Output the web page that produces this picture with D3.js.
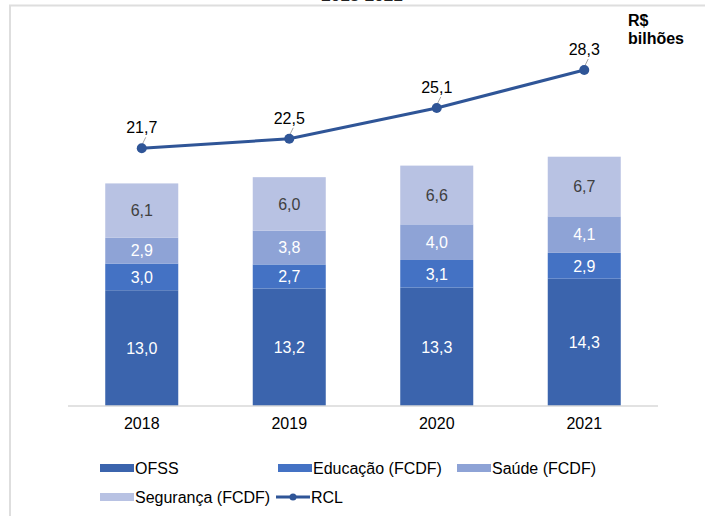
<!DOCTYPE html>
<html>
<head>
<meta charset="utf-8">
<script src="https://cdn.jsdelivr.net/npm/d3@7"></script>
<style>
  body { margin: 0; background: #fff; }
  svg { display: block; font-family: "Liberation Sans", Arial, sans-serif; }
</style>
</head>
<body>
<svg id="chart" width="705" height="516"></svg>
<script>
// data
var years = ['2018', '2019', '2020', '2021'];
var ofss = [13.0, 13.2, 13.3, 14.3];
var educacao = [3.0, 2.7, 3.1, 2.9];
var saude = [2.9, 3.8, 4.0, 4.1];
var seguranca = [6.1, 6.0, 6.6, 6.7];
var rcl = [21.7, 22.5, 25.1, 28.3];
var seriesNames = ['OFSS', 'Educação (FCDF)', 'Saúde (FCDF)', 'Segurança (FCDF)'];
var seriesColors = ['#3b64ad', '#4472c4', '#8ea3d6', '#b8c2e3'];
var labelColors = ['#ffffff', '#ffffff', '#ffffff', '#404040'];

var fmt = function(v){ return v.toFixed(1).replace('.', ','); };

var svg = d3.select('#chart');

// frame (cut off at top/right like the reference)
svg.append('path')
    .attr('d', 'M10,516 L10,5.5 L705,5.5')
    .attr('fill', 'none')
    .attr('stroke', '#dedede')
    .attr('stroke-width', 2);

// title, clipped by the top edge as in the reference
svg.append('text')
    .attr('x', 362).attr('y', 1)
    .attr('text-anchor', 'middle')
    .style('font-size', '17px').style('font-weight', 'bold')
    .attr('fill', '#222')
    .text('2018-2021');

var x = d3.scaleBand().domain(years).range([68, 658]).paddingInner(0.505).paddingOuter(0.2525);
var y = d3.scaleLinear().domain([0, 28]).range([406, 156.7]);
var y2 = d3.scaleLinear().domain([21.7, 28.3]).range([148.3, 70]);

var rows = years.map(function(yr, i){
    return { year: yr, OFSS: ofss[i], 'Educação (FCDF)': educacao[i], 'Saúde (FCDF)': saude[i], 'Segurança (FCDF)': seguranca[i] };
});
var stacked = d3.stack().keys(seriesNames)(rows);

var layers = svg.selectAll('g.layer').data(stacked).enter().append('g')
    .attr('class', 'layer')
    .attr('fill', function(d, i){ return seriesColors[i]; });

layers.selectAll('rect').data(function(d){ return d; }).enter().append('rect')
    .attr('x', function(d){ return x(d.data.year); })
    .attr('width', x.bandwidth())
    .attr('y', function(d){ return y(d[1]); })
    .attr('height', function(d){ return y(d[0]) - y(d[1]); });

layers.each(function(layer, i){
    d3.select(this).selectAll('text').data(layer).enter().append('text')
        .attr('x', function(d){ return x(d.data.year) + x.bandwidth() / 2; })
        .attr('y', function(d){ return (y(d[0]) + y(d[1])) / 2; })
        .attr('dy', '0.36em')
        .attr('text-anchor', 'middle')
        .attr('fill', labelColors[i])
        .style('font-size', '16px')
        .text(function(d){ return fmt(d[1] - d[0]); });
});

// baseline
svg.append('line')
    .attr('x1', 68).attr('x2', 658)
    .attr('y1', 406).attr('y2', 406)
    .attr('stroke', '#d9d9d9').attr('stroke-width', 1.5);

// x axis labels
var xAxis = d3.axisBottom(x).tickSize(0).tickPadding(12);
var gx = svg.append('g').attr('transform', 'translate(0,406)').call(xAxis);
gx.select('.domain').remove();
gx.selectAll('text').style('font-size', '16px').attr('fill', '#000')
    .style('font-family', '"Liberation Sans", Arial, sans-serif');

// RCL line
var cx = function(i){ return x(years[i]) + x.bandwidth() / 2; };
var line = d3.line().x(function(d, i){ return cx(i); }).y(function(d){ return y2(d); });
svg.append('path').datum(rcl)
    .attr('d', line)
    .attr('fill', 'none')
    .attr('stroke', '#2f5597')
    .attr('stroke-width', 3);

svg.selectAll('line.leader').data(rcl).enter().append('line')
    .attr('class', 'leader')
    .attr('x1', function(d, i){ return cx(i); })
    .attr('x2', function(d, i){ return cx(i) + 4; })
    .attr('y1', function(d){ return y2(d) - 3; })
    .attr('y2', function(d){ return y2(d) - 11; })
    .attr('stroke', '#a6a6a6').attr('stroke-width', 1);

svg.selectAll('circle.rcl').data(rcl).enter().append('circle')
    .attr('class', 'rcl')
    .attr('cx', function(d, i){ return cx(i); })
    .attr('cy', function(d){ return y2(d); })
    .attr('r', 5)
    .attr('fill', '#2f5597');

svg.selectAll('text.rcl').data(rcl).enter().append('text')
    .attr('class', 'rcl')
    .attr('x', function(d, i){ return cx(i); })
    .attr('y', function(d){ return y2(d) - 15; })
    .attr('text-anchor', 'middle')
    .attr('fill', '#000')
    .style('font-size', '16px')
    .text(fmt);

// unit label
var unit = svg.append('text').attr('x', 628).attr('y', 26)
    .style('font-size', '16px').style('font-weight', 'bold').attr('fill', '#000');
unit.append('tspan').attr('x', 628).text('R$');
unit.append('tspan').attr('x', 628).attr('dy', 18).text('bilhões');

// legend
var legendItems = [
    { name: 'OFSS', color: seriesColors[0], x: 100, y: 468 },
    { name: 'Educação (FCDF)', color: seriesColors[1], x: 278, y: 468 },
    { name: 'Saúde (FCDF)', color: seriesColors[2], x: 457, y: 468 },
    { name: 'Segurança (FCDF)', color: seriesColors[3], x: 100, y: 497 },
    { name: 'RCL', color: '#2f5597', x: 276, y: 497, line: true }
];
var lg = svg.selectAll('g.legend').data(legendItems).enter().append('g')
    .attr('class', 'legend')
    .attr('transform', function(d){ return 'translate(' + d.x + ',' + d.y + ')'; });
lg.filter(function(d){ return !d.line; }).append('rect')
    .attr('x', 0).attr('y', -4).attr('width', 34).attr('height', 8)
    .attr('fill', function(d){ return d.color; });
var lineItem = lg.filter(function(d){ return d.line; });
lineItem.append('line').attr('x1', 0).attr('x2', 34).attr('y1', 0).attr('y2', 0)
    .attr('stroke', function(d){ return d.color; }).attr('stroke-width', 3);
lineItem.append('circle').attr('cx', 17).attr('cy', 0).attr('r', 3.5)
    .attr('fill', function(d){ return d.color; });
lg.append('text')
    .attr('x', 35).attr('dy', '0.36em')
    .style('font-size', '16px').attr('fill', '#000')
    .text(function(d){ return d.name; });
</script>
</body>
</html>
